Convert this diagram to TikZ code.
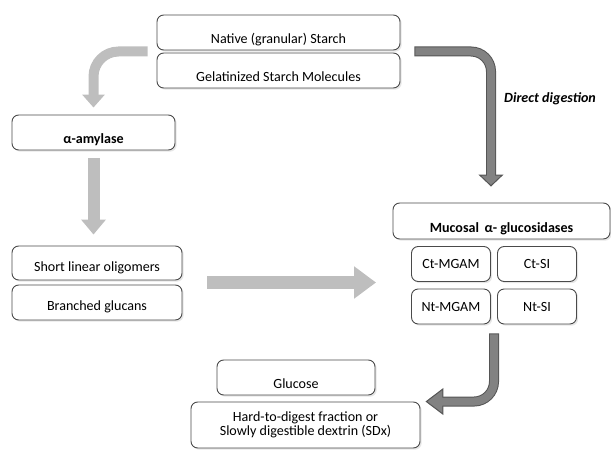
\documentclass[tikz,border=0pt]{standalone}
\usepackage{fontspec}
\setmainfont{Carlito}
\usetikzlibrary{arrows.meta}
\usetikzlibrary{calc}
\usetikzlibrary{shadows}
\definecolor{boxline}{HTML}{4A4A4A}
\definecolor{amylasearrow}{HTML}{BEBEBE}
\definecolor{directfill}{HTML}{828282}
\definecolor{directline}{HTML}{555555}

\tikzset{
  stage/.style={draw=boxline, line width=0.8pt, rounded corners=2mm, fill=white,
    drop shadow={shadow xshift=0.5mm, shadow yshift=-0.5mm, opacity=0.2},
    inner sep=2pt, align=center, font=\fontsize{12}{12.2}\selectfont},
  lowtext/.style={text height=#1, text depth=0pt},
  pale/.style 2 args={draw=amylasearrow, line width=3mm, -{Triangle[width=#1,length=#2]}},
  direct/.style 2 args={draw=directline, line width=3mm,
    -{Triangle[width=#1,length=#2,line width=0.3mm,fill=directfill]}},
  directcore/.style={draw=directfill, line width=2.4mm}
}

\begin{document}
\begin{tikzpicture}[x=0.03cm, y=-0.03cm]
    \useasboundingbox (0,0) rectangle (611,451);
    % starch
    \node[stage, lowtext=18pt, minimum width=7.29cm, minimum height=1.05cm] (native) at (278.5,32.5) {Native (granular) Starch};
    \node[stage, lowtext=18pt, minimum width=7.29cm, minimum height=1.05cm] (gel) at (278.5,70.5) {Gelatinized Starch Molecules};
    % luminal step
    \node[stage, lowtext=18pt, minimum width=4.89cm, minimum height=1.05cm, font=\bfseries\fontsize{12}{12.2}\selectfont] (amylase) at (93.5,132.5) {α-amylase};
    \node[stage, lowtext=14.6pt, minimum width=5.1cm, minimum height=1.02cm] (short) at (97,263) {Short linear oligomers};
    \node[stage, lowtext=12.9pt, minimum width=5.1cm, minimum height=1.05cm] (branched) at (97,302.5) {Branched glucans};
    % brush border
    \node[stage, lowtext=19.7pt, minimum width=6.51cm, minimum height=1.08cm, font=\bfseries\fontsize{12}{12.2}\selectfont] (mucosal) at (501.5,221) {Mucosal \,α- glucosidases};
    \foreach \name/\txt/\x/\y in {ctmgam/Ct-MGAM/451/264, ctsi/Ct-SI/537/264, ntmgam/Nt-MGAM/451/306.5, ntsi/Nt-SI/537/306.5}
    {
      \node[stage, minimum width=2.37cm, minimum height=1.05cm] (\name) at (\x,\y) {\txt};
    }
    % products
    \node[stage, lowtext=18pt, minimum width=4.74cm, minimum height=1.05cm] (glucose) at (296,377.5) {Glucose};
    \node[stage, minimum width=6.87cm, minimum height=1.38cm] (hard) at (305.5,425) {Hard-to-digest fraction or\\Slowly digestible dextrin (SDx)};

    \coordinate (lsrc) at ($(native.south west)!0.5!(gel.north west)$);
    \coordinate (lmid) at ($(short.south east)!0.5!(branched.north east)$);
    \coordinate (rsrc) at ($(native.south east)!0.5!(gel.north east)$);
    \coordinate (bsrc) at ($(ntmgam.south east)!0.5!(ntsi.south west)$);

    \draw[pale={6.6mm}{3.9mm}, rounded corners=7.5mm, shorten <=2.7mm, shorten >=2.1mm] (lsrc) -| (amylase.north);  %to amylase
    \draw[pale={7.2mm}{4.5mm}, line width=3.6mm, shorten <=2.4mm, shorten >=3.3mm] (amylase.south) -- (amylase.south |- short.north);
    \draw[pale={9.3mm}{6.6mm}, line width=3.9mm, shorten <=7.5mm, shorten >=10.5mm] (lmid) -- (lmid -| ctmgam.west);

    \draw[direct={7.5mm}{3.6mm}, rounded corners=6mm, shorten <=4.2mm, shorten >=4.8mm] (rsrc) -| ([xshift=-3.15mm]mucosal.north);  %direct digestion
    \draw[directcore, rounded corners=6mm, shorten <=4.5mm, shorten >=7.8mm] (rsrc) -| ([xshift=-3.15mm]mucosal.north);
    \node[font=\bfseries\itshape\fontsize{12}{12.2}\selectfont] (directlbl) at (550,99) {Direct digestion};

    \draw[direct={8.1mm}{5.4mm}, rounded corners=6mm, shorten <=2.7mm, shorten >=1.5mm] (bsrc) |- (hard.north east);  %to products
    \draw[directcore, rounded corners=6mm, shorten <=3mm, shorten >=6.3mm] (bsrc) |- (hard.north east);
\end{tikzpicture}
\end{document}
